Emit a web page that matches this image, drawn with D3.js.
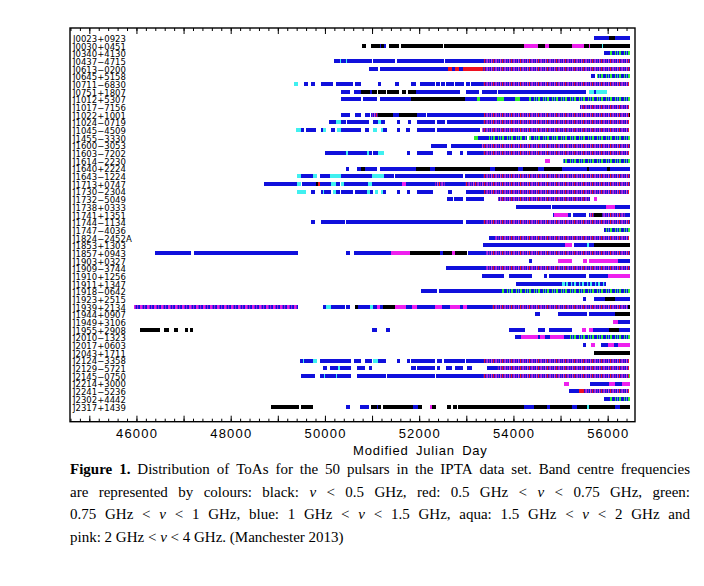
<!DOCTYPE html>
<html><head><meta charset="utf-8">
<script src="https://cdn.jsdelivr.net/npm/d3@7"></script>
<style>body{margin:0;background:#fff}</style>
</head><body>
<svg id="c" width="704" height="586" xmlns="http://www.w3.org/2000/svg"></svg>
<script>
// ---------------- data ----------------
const pulsars = ["J0023+0923","J0030+0451","J0340+4130","J0437−4715","J0613−0200","J0645+5158","J0711−6830","J0751+1807","J1012+5307","J1017−7156","J1022+1001","J1024−0719","J1045−4509","J1455−3330","J1600−3053","J1603−7202","J1614−2230","J1640+2224","J1643−1224","J1713+0747","J1730−2304","J1732−5049","J1738+0333","J1741+1351","J1744−1134","J1747−4036","J1824−2452A","J1853+1303","J1857+0943","J1903+0327","J1909−3744","J1910+1256","J1911+1347","J1918−0642","J1923+2515","J1939+2134","J1944+0907","J1949+3106","J1955+2908","J2010−1323","J2017+0603","J2043+1711","J2124−3358","J2129−5721","J2145−0750","J2214+3000","J2241−5236","J2302+4442","J2317+1439"];

// band codes: k black, r red, g green, b blue, c aqua, p pink,
// m mixed blue/red/pink, n mixed blue/green, q mixed blue/aqua, t mixed pink/blue
const segments = [
[[55700,56020,"b"],[56020,56160,"k"],[56160,56480,"b"]],
[[50780,50880,"k"],[50970,51170,"k"],[51170,51200,"b"],[51200,51250,"k"],[51250,51300,"b"],[51360,51570,"k"],[51620,52510,"k"],[52525,54230,"k"],[54230,54530,"p"],[54530,54820,"k"],[54680,54760,"p"],[54820,55240,"k"],[55250,55490,"p"],[55490,55600,"k"],[55600,55630,"p"],[55630,55890,"k"],[55890,55910,"c"],[55910,56480,"k"]],
[[55930,56060,"b"],[56060,56480,"n"]],
[[50185,50310,"b"],[50310,50350,"c"],[50350,50450,"b"],[50450,50475,"c"],[50475,51000,"b"],[51025,51495,"b"],[51525,52525,"b"],[52545,53375,"b"],[53375,56480,"m"]],
[[50930,51130,"b"],[51165,52615,"b"],[52615,52690,"r"],[52690,52760,"b"],[52760,52850,"r"],[52850,52920,"b"],[52920,53360,"r"],[53360,56480,"m"]],
[[55650,55740,"b"],[55770,56480,"n"]],
[[49340,49420,"c"],[49565,49635,"b"],[49710,49795,"b"],[49910,50170,"b"],[50240,50600,"b"],[50630,50775,"b"],[51120,51200,"b"],[51480,51565,"b"],[51835,51930,"b"],[52015,52330,"b"],[52355,52440,"b"],[52460,52545,"b"],[52565,52740,"b"],[52765,52950,"b"],[52990,53080,"b"],[53100,53360,"b"],[53360,56450,"m"]],
[[50350,50540,"b"],[50620,50775,"b"],[50775,50955,"k"],[50955,50990,"b"],[50990,51095,"k"],[51130,51290,"k"],[51320,51575,"k"],[51645,51730,"k"],[51765,51940,"k"],[51940,52865,"b"],[52990,53270,"b"],[53325,53645,"b"],[53680,55545,"b"],[55595,55700,"c"],[55700,55760,"b"],[55760,55985,"c"]],
[[50350,50760,"b"],[50800,51095,"b"],[51165,51835,"b"],[51835,52970,"k"],[52970,53220,"b"],[53220,53290,"g"],[53290,53645,"b"],[53645,53790,"g"],[53790,54035,"b"],[54035,54130,"g"],[54130,54320,"b"],[54320,56480,"n"]],
[[55420,56445,"m"]],
[[50350,50540,"b"],[50635,50775,"b"],[50845,50955,"b"],[50975,51120,"m"],[51130,51445,"k"],[51445,51575,"b"],[51575,51945,"k"],[51945,52140,"b"],[52170,53375,"b"],[53375,56445,"m"],[56445,56480,"k"]],
[[50085,50240,"b"],[50240,50335,"c"],[50335,50455,"b"],[50460,50930,"b"],[51025,51120,"b"],[51120,51190,"c"],[51190,51270,"b"],[51520,51600,"b"],[51765,51835,"b"],[51955,52330,"b"],[52370,52545,"b"],[52580,53360,"b"],[53360,56445,"m"]],
[[49390,49495,"c"],[49495,49565,"b"],[49600,49815,"b"],[49910,49955,"b"],[49955,50030,"c"],[50120,50205,"b"],[50260,50335,"c"],[50335,50775,"b"],[50845,50930,"b"],[51025,51095,"c"],[51200,51235,"c"],[51235,51320,"b"],[51520,51600,"b"],[51730,51815,"b"],[51955,52330,"b"],[52370,53290,"b"],[53330,56445,"m"]],
[[53170,53255,"g"],[53255,53490,"b"],[53490,54285,"n"],[54340,56480,"n"]],
[[52250,52600,"b"],[52665,53325,"b"],[53325,56480,"m"]],
[[50005,50455,"b"],[50455,50490,"c"],[50490,50885,"b"],[50885,50930,"c"],[50930,50990,"b"],[51025,51130,"b"],[51130,51250,"c"],[51745,51815,"b"],[51955,52285,"b"],[52580,52690,"b"],[52865,52935,"b"],[53020,53360,"b"],[53360,56445,"m"]],
[[54680,54780,"p"],[55050,56480,"n"]],
[[50440,50510,"b"],[50680,50775,"b"],[50775,50845,"k"],[50845,51095,"b"],[51165,51930,"b"],[51930,52225,"k"],[52225,52335,"b"],[52335,53500,"k"],[53500,53610,"b"],[53610,54105,"k"],[54105,54210,"b"],[54210,54530,"k"],[54530,54640,"b"],[54640,55030,"k"],[55030,55560,"b"],[55560,55600,"k"],[55600,55985,"b"],[55985,56055,"k"],[56055,56480,"b"]],
[[49410,49495,"c"],[49495,49745,"b"],[49745,49840,"c"],[49900,50100,"b"],[50100,50350,"c"],[50350,50990,"b"],[50990,51250,"c"],[51250,51460,"b"],[51480,52935,"b"],[52970,53360,"b"],[53360,56480,"m"]],
[[48710,49410,"b"],[49410,49495,"c"],[49510,49815,"b"],[49815,49850,"k"],[49850,49900,"r"],[49900,50135,"b"],[50135,50240,"c"],[50240,50315,"b"],[50335,50405,"c"],[50405,50920,"b"],[50920,50990,"c"],[50990,51625,"b"],[51625,51730,"p"],[51730,52335,"b"],[52335,52545,"m"],[52545,52970,"b"],[52970,56480,"m"]],
[[49410,49600,"c"],[49695,49795,"b"],[49910,49955,"b"],[49955,49990,"c"],[49990,50135,"b"],[50170,50240,"c"],[50240,50315,"b"],[50335,50600,"b"],[50630,50885,"b"],[50885,50955,"c"],[50955,51025,"b"],[51060,51130,"c"],[51200,51235,"c"],[51235,51305,"b"],[51520,51600,"b"],[51745,51815,"b"],[51945,52285,"b"],[52615,52690,"b"],[52990,53375,"b"],[53375,56445,"m"]],
[[52580,52710,"b"],[52740,52920,"b"],[52990,53375,"b"],[53680,55630,"m"],[55700,55775,"p"]],
[[54055,54795,"b"],[54820,55970,"b"],[55970,56165,"p"],[56165,56480,"b"]],
[[54830,54865,"b"],[54865,55165,"p"],[55165,55220,"b"],[55255,55545,"b"],[55595,55700,"m"],[55700,55880,"k"],[55880,56375,"m"],[56375,56480,"b"]],
[[49710,49795,"b"],[49910,50420,"b"],[50455,52935,"b"],[52990,53360,"b"],[53360,56480,"m"]],
[[55930,56480,"n"]],
[[53490,53610,"b"],[53610,56445,"m"]],
[[53360,55100,"b"],[55100,55240,"p"],[55275,55560,"b"],[55560,55595,"c"],[55595,55700,"b"],[55700,56480,"k"]],
[[46400,47165,"b"],[47230,49420,"b"],[50440,50525,"b"],[50620,51410,"b"],[51410,51800,"p"],[51800,52440,"k"],[52440,52510,"b"],[52510,52690,"k"],[52690,52760,"p"],[52760,53020,"k"],[53040,53420,"b"],[53420,56480,"m"]],
[[54320,54390,"b"],[54955,55050,"p"],[55060,55240,"p"],[55475,55560,"p"],[55595,56210,"p"],[56210,56480,"b"]],
[[52565,53420,"b"],[53420,56480,"m"]],
[[53325,53800,"b"],[53905,54390,"b"],[54645,54710,"b"],[54745,55545,"b"],[55595,56005,"b"],[56005,56480,"p"]],
[[54055,55030,"b"],[55030,55100,"c"],[55100,55970,"q"]],
[[52030,52385,"b"],[52425,53750,"b"],[53750,56480,"n"]],
[[55470,55545,"b"],[55700,55950,"b"],[55950,56165,"k"],[56165,56480,"b"]],
[[45950,49425,"t"],[49955,50030,"b"],[50030,50135,"c"],[50135,50420,"b"],[50455,50525,"b"],[50630,50705,"k"],[50705,50955,"b"],[50955,51025,"c"],[51025,51095,"b"],[51095,51165,"p"],[51165,51235,"b"],[51235,51480,"k"],[51480,51730,"p"],[51730,51840,"b"],[51840,51945,"p"],[51945,52335,"b"],[52335,52475,"p"],[52475,52650,"b"],[52650,52865,"p"],[52865,52935,"b"],[52935,53005,"p"],[53005,53540,"b"],[53540,56440,"m"],[56440,56480,"k"]],
[[54460,54565,"b"],[54955,55560,"b"],[55595,56165,"b"],[56165,56480,"k"]],
[[56105,56210,"p"],[56210,56480,"b"]],
[[46080,46490,"k"],[46575,46685,"k"],[46805,46875,"k"],[47020,47090,"k"],[47130,47205,"k"],[51005,51095,"b"],[51305,51390,"b"],[53905,54250,"b"],[54530,54675,"b"],[54745,55240,"b"],[55455,55545,"p"],[55595,55690,"p"],[55690,56020,"b"],[56020,56235,"k"],[56235,56480,"b"]],
[[54035,54155,"b"],[54155,54530,"p"],[54530,54570,"b"],[54570,54675,"p"],[54675,54780,"b"],[54780,55065,"p"],[55065,55135,"b"],[55135,56480,"n"]],
[[55470,55545,"b"],[55645,55735,"p"],[55865,56005,"b"],[56005,56125,"p"],[56125,56210,"b"],[56210,56480,"p"]],
[[55700,56480,"k"]],
[[49480,49530,"b"],[49530,49565,"c"],[49565,49745,"b"],[49745,49835,"c"],[49905,50550,"b"],[50620,50775,"b"],[50845,51005,"b"],[51025,51130,"c"],[51130,51305,"b"],[51520,51600,"b"],[51745,51815,"b"],[51835,52335,"b"],[52370,52475,"b"],[52525,52970,"b"],[52990,53375,"b"],[53375,56445,"m"]],
[[49955,50050,"b"],[50100,50280,"b"],[50280,50315,"c"],[50315,50560,"b"],[50690,50860,"b"],[50930,51005,"b"],[51835,51940,"b"],[51955,52335,"b"],[52370,52440,"b"],[52565,52690,"b"],[52760,52935,"b"],[53005,53115,"b"],[53430,53645,"b"],[53645,56445,"m"]],
[[49495,49795,"b"],[49900,49970,"b"],[49970,50005,"c"],[50005,50240,"b"],[50240,50265,"c"],[50265,50550,"b"],[50670,51305,"b"],[51320,52335,"b"],[52355,53360,"b"],[53360,56445,"m"],[56445,56480,"g"]],
[[55080,55190,"p"],[55615,56020,"b"],[56020,56165,"p"],[56165,56305,"b"],[56305,56480,"p"]],
[[55185,55385,"b"],[55385,55490,"r"],[55490,56445,"m"]],
[[55930,56060,"b"],[56060,56480,"n"]],
[[48855,49460,"k"],[49495,49745,"k"],[50440,50525,"b"],[50740,50940,"b"],[50975,51095,"k"],[51095,51130,"b"],[51130,51200,"k"],[51235,51870,"k"],[51870,51980,"b"],[51980,52050,"k"],[52225,52275,"p"],[52275,52355,"k"],[52580,52665,"k"],[52710,52795,"k"],[52815,54225,"k"],[54225,54440,"b"],[54440,54710,"k"],[54710,54780,"b"],[54780,55240,"k"],[55240,55345,"b"],[55345,55560,"k"],[55560,55600,"c"],[55600,56165,"k"],[56165,56270,"b"],[56270,56480,"k"]]
];

const xDomain = [44590, 56580];
const tickLabelValues = [46000, 48000, 50000, 52000, 54000, 56000];
const majorTickValues = [45000,46000,47000,48000,49000,50000,51000,52000,53000,54000,55000,56000];
const minorTickValues = d3.range(44600, 56580, 200);
const axisTitle = "Modified Julian Day";
const captionLines = [
 "Figure 1. Distribution of ToAs for the 50 pulsars in the IPTA data set. Band centre frequencies",
 "are represented by colours: black: ν < 0.5 GHz, red: 0.5 GHz < ν < 0.75 GHz, green:",
 "0.75 GHz < ν < 1 GHz, blue: 1 GHz < ν < 1.5 GHz, aqua: 1.5 GHz < ν < 2 GHz and",
 "pink: 2 GHz < ν < 4 GHz. (Manchester 2013)"
];

// ---------------- styles ----------------
const COL = {k:"#000000", r:"#ee1020", g:"#30ee30", b:"#1010dc", c:"#40f0f0", p:"#ee20ee"};
const PAT = {
  m: {base:"#1010dc", w:9, stripes:[[0,1.2,"#e81030"],[2.4,1.4,"#e030e0"],[4.8,1.2,"#8a20c8"],[7,1.2,"#e040d0"]]},
  n: {base:"#1010dc", w:9, stripes:[[0,2,"#30ee30"],[5,1,"#30ee30"],[7.2,0.8,"#40d0d0"]]},
  q: {base:"#1010dc", w:8, stripes:[[0,2,"#40f0f0"],[5,1.2,"#40f0f0"]]},
  t: {base:"#1010dc", w:7, stripes:[[0,2.6,"#e020e0"],[4,1.2,"#a020e0"]]}
};

const L = 70, R = 635, T = 28, B = 421.7;
const svg = d3.select("#c");
svg.append("rect").attr("width",704).attr("height",586).attr("fill","#fff");

const defs = svg.append("defs");
Object.entries(PAT).forEach(([k,p])=>{
  const pat = defs.append("pattern").attr("id","pat_"+k).attr("patternUnits","userSpaceOnUse")
    .attr("x",L).attr("y",0).attr("width",p.w).attr("height",600);
  pat.append("rect").attr("width",p.w).attr("height",600).attr("fill",p.base);
  p.stripes.forEach(s=>pat.append("rect").attr("x",s[0]).attr("width",s[1]).attr("height",600).attr("fill",s[2]));
});
const fillOf = code => COL[code] ? COL[code] : "url(#pat_"+code+")";

const x = d3.scaleLinear().domain(xDomain).range([L, R]);
const y = d3.scalePoint().domain(pulsars).range([38, 406.6]);
const barH = 4;

// bars
const rows = svg.append("g");
pulsars.forEach((name,i)=>{
  rows.append("g").selectAll("rect").data(segments[i]).join("rect")
    .attr("x", d=>x(d[0])).attr("width", d=>Math.max(1, x(d[1])-x(d[0])))
    .attr("y", y(name)-barH/2).attr("height", barH)
    .attr("fill", d=>fillOf(d[2]))
    .attr("shape-rendering","crispEdges");
});

// pulsar labels
svg.append("g").selectAll("text").data(pulsars).join("text")
  .attr("x", 73).attr("y", d=>y(d)+3.9)
  .attr("font-family","DejaVu Sans").attr("font-size",8.5).attr("fill","#000")
  .text(d=>d);

// axes (ticks inward)
const gB = svg.append("g").attr("transform",`translate(0,${B})`);
gB.call(d3.axisBottom(x).tickValues(minorTickValues).tickSize(-3).tickFormat(""));
gB.call(g=>g.append("g").call(d3.axisBottom(x).tickValues(majorTickValues).tickSize(-6).tickFormat("")));
gB.selectAll(".domain").remove();
const gT = svg.append("g").attr("transform",`translate(0,${T})`);
gT.call(d3.axisTop(x).tickValues(minorTickValues).tickSize(-3).tickFormat(""));
gT.call(g=>g.append("g").call(d3.axisTop(x).tickValues(majorTickValues).tickSize(-6).tickFormat("")));
gT.selectAll(".domain").remove();
svg.selectAll(".tick line").attr("stroke","#000").attr("stroke-width",1);

// tick labels
svg.append("g").selectAll("text").data(tickLabelValues).join("text")
  .attr("x", d=>x(d)+0.6).attr("y", 437.5).attr("text-anchor","middle")
  .attr("font-family","Liberation Sans").attr("font-size",13).attr("letter-spacing",1.2)
  .text(d=>d);

// frame
svg.append("rect").attr("x",L).attr("y",T).attr("width",R-L).attr("height",B-T)
  .attr("fill","none").attr("stroke","#000").attr("stroke-width",1.4);

// axis title
svg.append("text").attr("x",353).attr("y",455)
  .attr("font-family","Liberation Sans").attr("font-size",13).attr("letter-spacing",0.8).attr("word-spacing",3)
  .text(axisTitle);

// caption (justified)
const capX0 = 70, capX1 = 690, capY0 = 474, capDy = 22.6, capFS = 15;
captionLines.forEach((line,li)=>{
  const words = line.split(" ");
  const g = svg.append("g");
  const nodes = words.map((w,wi)=>{
    const t = g.append("text").attr("y", capY0+li*capDy)
      .attr("font-family","Liberation Serif").attr("font-size",capFS).attr("fill","#000").text(w);
    if (li===0 && wi<2) t.attr("font-weight","bold");
    if (w==="ν") t.attr("font-style","italic");
    return t;
  });
  const widths = nodes.map(n=>n.node().getComputedTextLength());
  const total = d3.sum(widths);
  const justify = li < captionLines.length-1;
  const gap = justify ? (capX1-capX0-total)/(words.length-1) : capFS*0.25;
  let cx = capX0;
  nodes.forEach((n,i)=>{ n.attr("x",cx); cx += widths[i]+gap; });
});
</script>
</body></html>
